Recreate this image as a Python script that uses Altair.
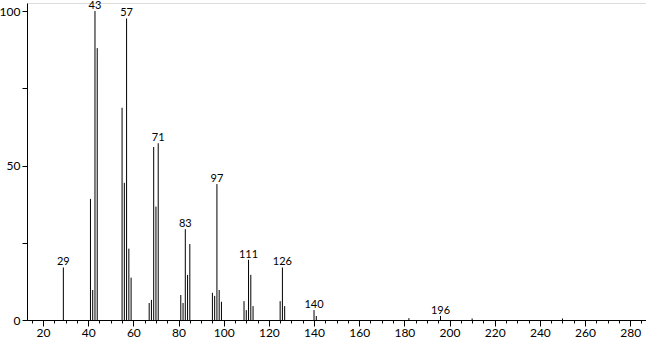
import altair as alt
import pandas as pd

mz = [29, 41, 42, 43, 44, 55, 56, 57, 58, 59, 67, 68, 69, 70, 71,
      81, 82, 83, 84, 85, 95, 96, 97, 98, 99, 109, 110, 111, 112, 113,
      125, 126, 127, 140, 141, 182, 196, 210, 250]
intensity = [17, 39.2, 9.7, 100, 88, 68.7, 44.4, 97.6, 23.1, 13.7, 5.5, 6.5, 56, 36.7, 57.2,
             8.1, 5.5, 29.4, 14.6, 24.6, 8.8, 7.8, 44, 9.7, 5.9, 6.1, 3.2, 19.5, 14.6, 4.5,
             6.1, 17, 4.5, 3.2, 1.3, 0.6, 1.3, 0.5, 0.5]
labeled = [29, 43, 57, 71, 83, 97, 111, 126, 140, 196]

major_x = list(range(20, 281, 20))
minor_x = list(range(15, 286, 5))
y_ticks = [0, 25, 50, 75, 100]

df = pd.DataFrame({"mz": mz, "intensity": intensity})
df["zero"] = 0
lab = df[df["mz"].isin(labeled)]

FONT = "Lato"
xscale = alt.Scale(domain=[12.9, 287], nice=False, zero=False)
yscale = alt.Scale(domain=[0, 102.6], nice=False)

bars = alt.Chart(df).mark_rule(color="black", strokeWidth=1).encode(
    x=alt.X("mz:Q", scale=xscale, axis=alt.Axis(
        values=major_x, title=None, tickSize=6, labelPadding=1, grid=False,
        domainColor="black", tickColor="black", labelColor="black",
        labelFont=FONT, labelFontSize=12, orient="bottom", labelFlush=False)),
    y=alt.Y("intensity:Q", scale=yscale, axis=alt.Axis(
        values=y_ticks, title=None, tickSize=5, labelPadding=2, grid=False,
        labelExpr="datum.value % 50 == 0 ? datum.label : ''",
        domainColor="black", tickColor="black", labelColor="black",
        labelFont=FONT, labelFontSize=12, orient="left")),
    y2="zero:Q",
)

minor = alt.Chart(df).mark_rule(opacity=0).encode(
    x=alt.X("mz:Q", scale=xscale, axis=alt.Axis(
        values=minor_x, title=None, tickSize=3, labels=False, domain=False,
        grid=False, tickColor="black", orient="bottom")),
    y=alt.Y("intensity:Q", scale=yscale, axis=None),
)

texts = alt.Chart(lab).mark_text(
    baseline="alphabetic", dy=-2, font=FONT, fontSize=11, color="black"
).encode(
    x=alt.X("mz:Q", scale=xscale, axis=None),
    y=alt.Y("intensity:Q", scale=yscale, axis=None),
    text=alt.Text("mz:Q", format="d"),
)

chart = alt.layer(bars, minor, texts).resolve_axis(
    x="independent", y="independent"
).properties(
    width=619, height=317,
    padding={"left": 27, "top": 3, "right": 0, "bottom": 19},
    autosize=alt.AutoSizeParams(type="none"),
).configure_view(stroke=None).configure(background="white")

chart.save("out.html", embed_options={"renderer": "svg", "actions": False})
